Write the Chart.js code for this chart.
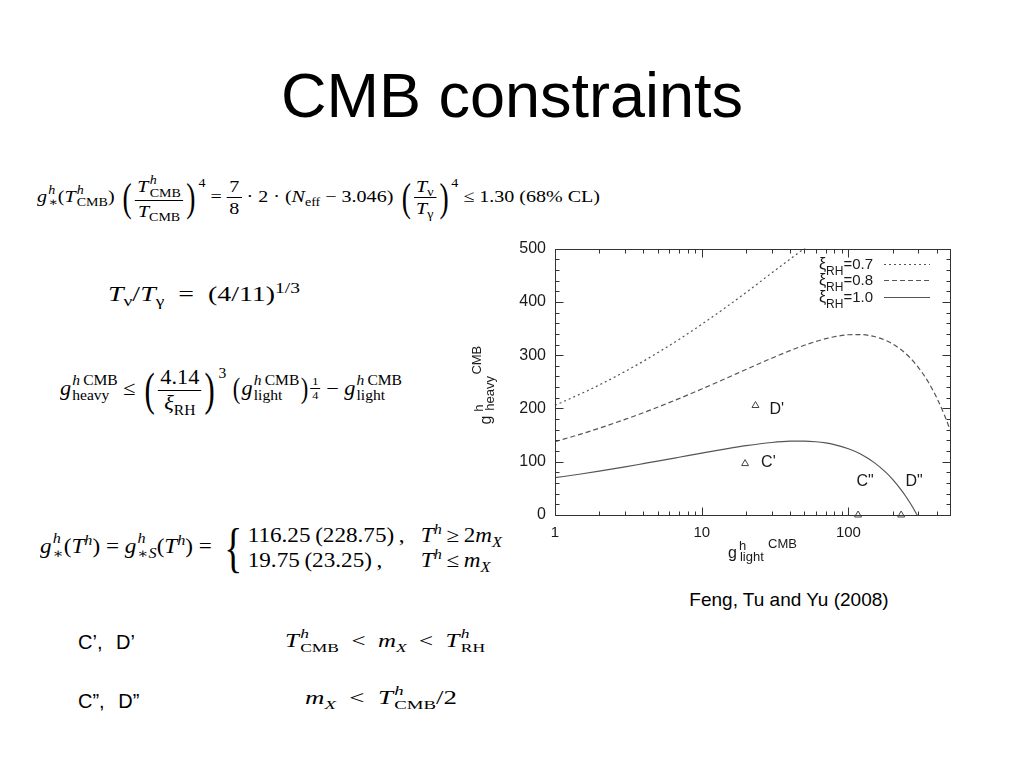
<!DOCTYPE html>
<html>
<head>
<meta charset="utf-8">
<script src="https://cdn.jsdelivr.net/npm/chart.js@4.4.1/dist/chart.umd.min.js"></script>
<style>
html,body{margin:0;padding:0;background:#fff;}
#page{position:relative;width:1024px;height:768px;overflow:hidden;background:#fff;font-family:"Liberation Sans",Arial,sans-serif;color:#000;}
.txt{position:absolute;white-space:nowrap;line-height:1;}
.eq{position:absolute;font-family:"Liberation Serif","DejaVu Serif",serif;color:#000;white-space:nowrap;display:flex;align-items:center;height:100px;}
.eq .in{display:inline-block;transform-origin:left center;}
.eq i{font-style:italic;}
.eq sub,.eq sup{font-size:0.7em;line-height:0;}
.ss{display:inline-block;vertical-align:-0.38em;font-size:0.7em;line-height:1.05;margin-left:1px;}
.ss>*{display:block;}
.fr{display:inline-flex;flex-direction:column;align-items:center;vertical-align:middle;line-height:1.15;}
.fr>span:first-child{border-bottom:1px solid #000;padding:0 2px 1px 2px;}
.fr>span:last-child{padding-top:1px;}
.sfr{font-size:0.55em;vertical-align:0.9em;line-height:1;}
.bp{display:inline-block;font-size:2.3em;line-height:1;vertical-align:middle;transform:scaleX(0.6);font-weight:100;}
.mp{display:inline-block;font-size:1.45em;line-height:1;vertical-align:-0.12em;transform:scaleX(0.7);}
.bsup{font-size:0.7em;vertical-align:1.25em;line-height:0;}
.brace{display:inline-block;font-size:2.7em;line-height:1;vertical-align:middle;transform:scaleX(0.6);}
.cases{display:inline-grid;grid-template-columns:auto auto;column-gap:0.7em;vertical-align:middle;line-height:1.25;}
canvas{position:absolute;left:470px;top:230px;}
</style>
</head>
<body>
<div id="page">
  <div class="txt" style="left:0;width:1024px;text-align:center;top:64px;font-size:63px;">CMB constraints</div>

  <div class="eq" data-l="37" data-r="600" data-c="198" style="font-size:17px"><span class="in"><i>g</i><span class="ss"><i>h</i><span>∗</span></span>(<i>T</i><span class="ss"><i>h</i><span>CMB</span></span>)&nbsp;<span class="bp">(</span><span class="fr"><span><i>T</i><span class="ss"><i>h</i><span>CMB</span></span></span><span><i>T</i><sub>CMB</sub></span></span><span class="bp">)</span><sup class="bsup">4</sup>&nbsp;=&nbsp;<span class="fr"><span>7</span><span>8</span></span>&nbsp;·&nbsp;2&nbsp;·&nbsp;(<i>N</i><sub>eff</sub>&nbsp;−&nbsp;3.046)&nbsp;<span class="bp">(</span><span class="fr"><span><i>T</i><sub>ν</sub></span><span><i>T</i><sub>γ</sub></span></span><span class="bp">)</span><sup class="bsup">4</sup>&nbsp;≤&nbsp;1.30&nbsp;(68%&nbsp;CL)</span></div>

  <div class="eq" data-l="108" data-r="300" data-c="294" style="font-size:22px"><span class="in"><i>T</i><sub>ν</sub>/<i>T</i><sub>γ</sub>&ensp;=&ensp;(4/11)<sup>1/3</sup></span></div>

  <div class="eq" data-l="60" data-r="402" data-c="390" style="font-size:20px"><span class="in"><i>g</i><span class="ss"><span><i>h</i>&thinsp;CMB</span><span>heavy</span></span>&nbsp;≤&nbsp;<span class="bp">(</span><span class="fr"><span>4.14</span><span><i>ξ</i><sub>RH</sub></span></span><span class="bp">)</span><sup class="bsup">3</sup>&thinsp;<span class="mp">(</span><i>g</i><span class="ss"><span><i>h</i>&thinsp;CMB</span><span>light</span></span><span class="mp">)</span><span class="fr sfr"><span>1</span><span>4</span></span>&nbsp;−&nbsp;<i>g</i><span class="ss"><span><i>h</i>&thinsp;CMB</span><span>light</span></span></span></div>

  <div class="eq" data-l="40" data-r="502" data-c="548" style="font-size:20px"><span class="in"><i>g</i><span class="ss"><i>h</i><span>∗</span></span>(<i>T</i><sup><i>h</i></sup>)&nbsp;=&nbsp;<i>g</i><span class="ss"><i>h</i><span>∗<i>S</i></span></span>(<i>T</i><sup><i>h</i></sup>)&nbsp;=&nbsp;<span class="brace">{</span><span class="cases"><span>116.25&thinsp;(228.75)&thinsp;,</span><span><i>T</i><sup><i>h</i></sup>&thinsp;≥&thinsp;2<i>m</i><sub><i>X</i></sub></span><span>19.75&thinsp;(23.25)&thinsp;,</span><span><i>T</i><sup><i>h</i></sup>&thinsp;≤&thinsp;<i>m</i><sub><i>X</i></sub></span></span></span></div>

  <div class="txt" style="left:78px;top:632px;font-size:20px;word-spacing:8px;">C’, D’</div>
  <div class="txt" style="left:78px;top:691px;font-size:20px;word-spacing:8px;">C”, D”</div>

  <div class="eq" data-l="285" data-r="485" data-c="641" style="font-size:19px"><span class="in"><i>T</i><span class="ss"><i>h</i><span>CMB</span></span>&ensp;&lt;&ensp;<i>m</i><sub><i>X</i></sub>&ensp;&lt;&ensp;<i>T</i><span class="ss"><i>h</i><span>RH</span></span></span></div>
  <div class="eq" data-l="305" data-r="457" data-c="698" style="font-size:19px"><span class="in"><i>m</i><sub><i>X</i></sub>&ensp;&lt;&ensp;<i>T</i><span class="ss"><i>h</i><span>CMB</span></span>/2</span></div>

  <div class="txt" style="left:589px;width:400px;text-align:center;top:590px;font-size:19px;">Feng, Tu and Yu (2008)</div>

  <canvas id="c" width="490" height="345"></canvas>
</div>
<script>
// ---- data ----
const xTicks = [1, 10, 100];
const xMinor = [2,3,4,5,6,7,8,9,20,30,40,50,60,70,80,90,200,300,400];
const yTicks = [0, 100, 200, 300, 400, 500];
const legendValues = ['0.7', '0.8', '1.0'];

const xi07X = [1,1.5,2,3,4,5,7,10,15,20,30,40,50,60];
const xi07Y = [205.9,227.5,244.0,269.3,288.6,304.4,329.5,357.9,392.1,417.5,454.2,480.3,500.1,515.8];

const xi08X = [1,1.5,2,3,4,5,7,10,15,20,30,40,50,60,70,80,100,120,150,180,200,230,260,300,350,400,450,500];
const xi08Y = [137.6,151.9,162.8,179.4,192.0,202.2,218.4,236.5,257.7,273.1,294.3,308.5,318.5,325.7,330.9,334.5,338.3,338.7,335.0,327.6,321.2,309.7,296.5,276.8,249.5,219.8,188.3,155.4];

const xi10X = [1,1.5,2,3,4,5,7,10,15,20,30,40,50,60,70,80,100,120,150,180,200,230,245,260,275,290,294];
const xi10Y = [70.0,77.0,82.4,90.4,96.4,101.1,108.4,116.2,124.7,130.1,136.1,138.5,138.7,137.5,135.3,132.2,124.4,114.9,98.3,79.9,66.9,46.3,35.7,24.9,14.0,2.8,0];

const pointNames = ["C'", "D'", 'C"', 'D"'];
const pointX = [19.75, 23.25, 116.25, 228.75];
const pointY = [96.5, 205.5, 0, 0];

// ---- styling (not data) ----
const labelOffsets = [[16,-1,'left'],[14,4,'left'],[7,-33,'center'],[13,-33,'center']];
const lineColor = '#555';
const textColor = '#1a1a1a';
const FONT = '"Liberation Sans", Arial, sans-serif';

const toXY = (xs, ys) => xs.map((v, i) => ({x: v, y: ys[i]}));

const deco = {
  id: 'deco',
  afterDatasetsDraw(chart) {
    const {ctx, chartArea: a, scales: {x, y}} = chart;
    ctx.save();
    ctx.strokeStyle = '#333'; ctx.lineWidth = 1; ctx.setLineDash([]);
    const L = Math.round(a.left) + 0.5, R = Math.round(a.right) - 0.5, T = Math.round(a.top) + 0.5, B = Math.round(a.bottom) + 0.5;
    ctx.strokeRect(L, T, R - L, B - T);
    ctx.beginPath();
    const tickY = (v, len) => { const p = Math.round(y.getPixelForValue(v)) + 0.5; ctx.moveTo(L, p); ctx.lineTo(L + len, p); ctx.moveTo(R, p); ctx.lineTo(R - len, p); };
    const tickX = (v, len) => { const p = Math.round(x.getPixelForValue(v)) + 0.5; ctx.moveTo(p, B); ctx.lineTo(p, B - len); ctx.moveTo(p, T); ctx.lineTo(p, T + len); };
    yTicks.forEach(v => tickY(v, 8));
    for (let i = 0; i < yTicks.length - 1; i++) {
      const step = (yTicks[i + 1] - yTicks[i]) / 5;
      for (let k = 1; k < 5; k++) tickY(yTicks[i] + k * step, 4);
    }
    xTicks.forEach(v => tickX(v, 8));
    xMinor.forEach(v => tickX(v, 4));
    ctx.stroke();

    // point labels
    ctx.fillStyle = textColor;
    ctx.font = '16px ' + FONT;
    ctx.textBaseline = 'middle';
    pointNames.forEach((n, i) => {
      const px = x.getPixelForValue(pointX[i]), py = y.getPixelForValue(pointY[i]);
      const o = labelOffsets[i];
      ctx.textAlign = o[2];
      ctx.fillText(n, px + o[0], py + o[1]);
    });

    // legend (top right, inside the plot)
    ctx.textBaseline = 'alphabetic';
    ctx.textAlign = 'left';
    const textRight = a.right - 78, lineL = a.right - 67, lineR = a.right - 21;
    legendValues.forEach((val, i) => {
      const base = a.top + 20 + i * 16.5;
      ctx.font = '15px ' + FONT;
      const s3 = '=' + val;
      const w3 = ctx.measureText(s3).width;
      ctx.font = '12px ' + FONT;
      const w2 = ctx.measureText('RH').width;
      ctx.font = '16px ' + FONT;
      const w1 = ctx.measureText('ξ').width;
      let xx = textRight - w3 - w2 - w1;
      ctx.fillText('ξ', xx, base); xx += w1;
      ctx.font = '12px ' + FONT; ctx.fillText('RH', xx, base + 6); xx += w2;
      ctx.font = '15px ' + FONT; ctx.fillText(s3, xx, base);
      const ds = chart.data.datasets[i];
      ctx.strokeStyle = ds.borderColor; ctx.lineWidth = ds.borderWidth;
      ctx.setLineDash(ds.borderDash || []);
      ctx.beginPath();
      const ly = Math.round(base - 5) + 0.5;
      ctx.moveTo(lineL, ly); ctx.lineTo(lineR, ly); ctx.stroke();
    });
    ctx.setLineDash([]);

    // axis titles
    const drawTitle = (sub, hOff, cmbX) => {
      ctx.fillStyle = textColor;
      ctx.textAlign = 'left';
      ctx.font = '16px ' + FONT;
      const gw = ctx.measureText('g').width;
      ctx.fillText('g', 0, 0);
      ctx.font = '13px ' + FONT;
      ctx.fillText('h', gw + hOff, -8);
      ctx.fillText(sub, gw + hOff + 1, 3);
      ctx.fillText('CMB', cmbX, -10);
    };
    ctx.save();
    ctx.translate(x.getPixelForValue(1) + 173, a.bottom + 43);
    drawTitle('light', 2, 40);
    ctx.restore();
    ctx.save();
    ctx.translate(21, a.top + 176);
    ctx.rotate(-Math.PI / 2);
    drawTitle('heavy', 4, 50);
    ctx.restore();

    ctx.restore();
  }
};

const lineDs = (label, xs, ys, dash) => ({
  label, data: toXY(xs, ys), showLine: true, borderColor: lineColor, borderWidth: 1.2,
  borderDash: dash, pointRadius: 0, cubicInterpolationMode: 'monotone', fill: false
});

new Chart(document.getElementById('c'), {
  type: 'scatter',
  data: {
    datasets: [
      lineDs('ξRH=' + legendValues[0], xi07X, xi07Y, [2, 3]),
      lineDs('ξRH=' + legendValues[1], xi08X, xi08Y, [5, 3]),
      lineDs('ξRH=' + legendValues[2], xi10X, xi10Y, []),
      {
        label: 'points', data: toXY(pointX, pointY), showLine: false,
        pointStyle: 'triangle', pointRadius: 4, borderColor: '#444', borderWidth: 1,
        backgroundColor: 'rgba(255,255,255,0)', clip: false
      }
    ]
  },
  options: {
    responsive: false, animation: false, devicePixelRatio: 1,
    layout: {padding: {left: 0, top: 16, right: 9, bottom: 0}},
    plugins: {legend: {display: false}, tooltip: {enabled: false}},
    scales: {
      x: {
        type: 'logarithmic', min: 1, max: 500,
        afterBuildTicks: s => { s.ticks = xTicks.map(v => ({value: v})); },
        afterFit: s => { s.height = 60; },
        grid: {display: false, drawTicks: false}, border: {display: false},
        ticks: {autoSkip: false, maxRotation: 0, padding: 9, color: textColor,
          font: {family: FONT, size: 15}, callback: v => String(v)}
      },
      y: {
        type: 'linear', min: 0, max: 500,
        afterBuildTicks: s => { s.ticks = yTicks.map(v => ({value: v})); },
        afterFit: s => { s.width = 85; },
        grid: {display: false, drawTicks: false}, border: {display: false},
        ticks: {padding: 9, color: textColor, font: {family: FONT, size: 16}, callback: v => String(v)}
      }
    }
  },
  plugins: [deco]
});

function fitEq() {
  document.querySelectorAll('.eq').forEach(el => {
    const l = +el.dataset.l, r = +el.dataset.r, c = +el.dataset.c;
    el.style.left = l + 'px';
    el.style.top = (c - 50) + 'px';
    const inner = el.querySelector('.in');
    inner.style.transform = 'none';
    const w = inner.getBoundingClientRect().width;
    if (w > 0) inner.style.transform = 'scaleX(' + ((r - l) / w) + ')';
  });
}
fitEq();
if (document.fonts && document.fonts.ready) document.fonts.ready.then(fitEq);
</script>
</body>
</html>
